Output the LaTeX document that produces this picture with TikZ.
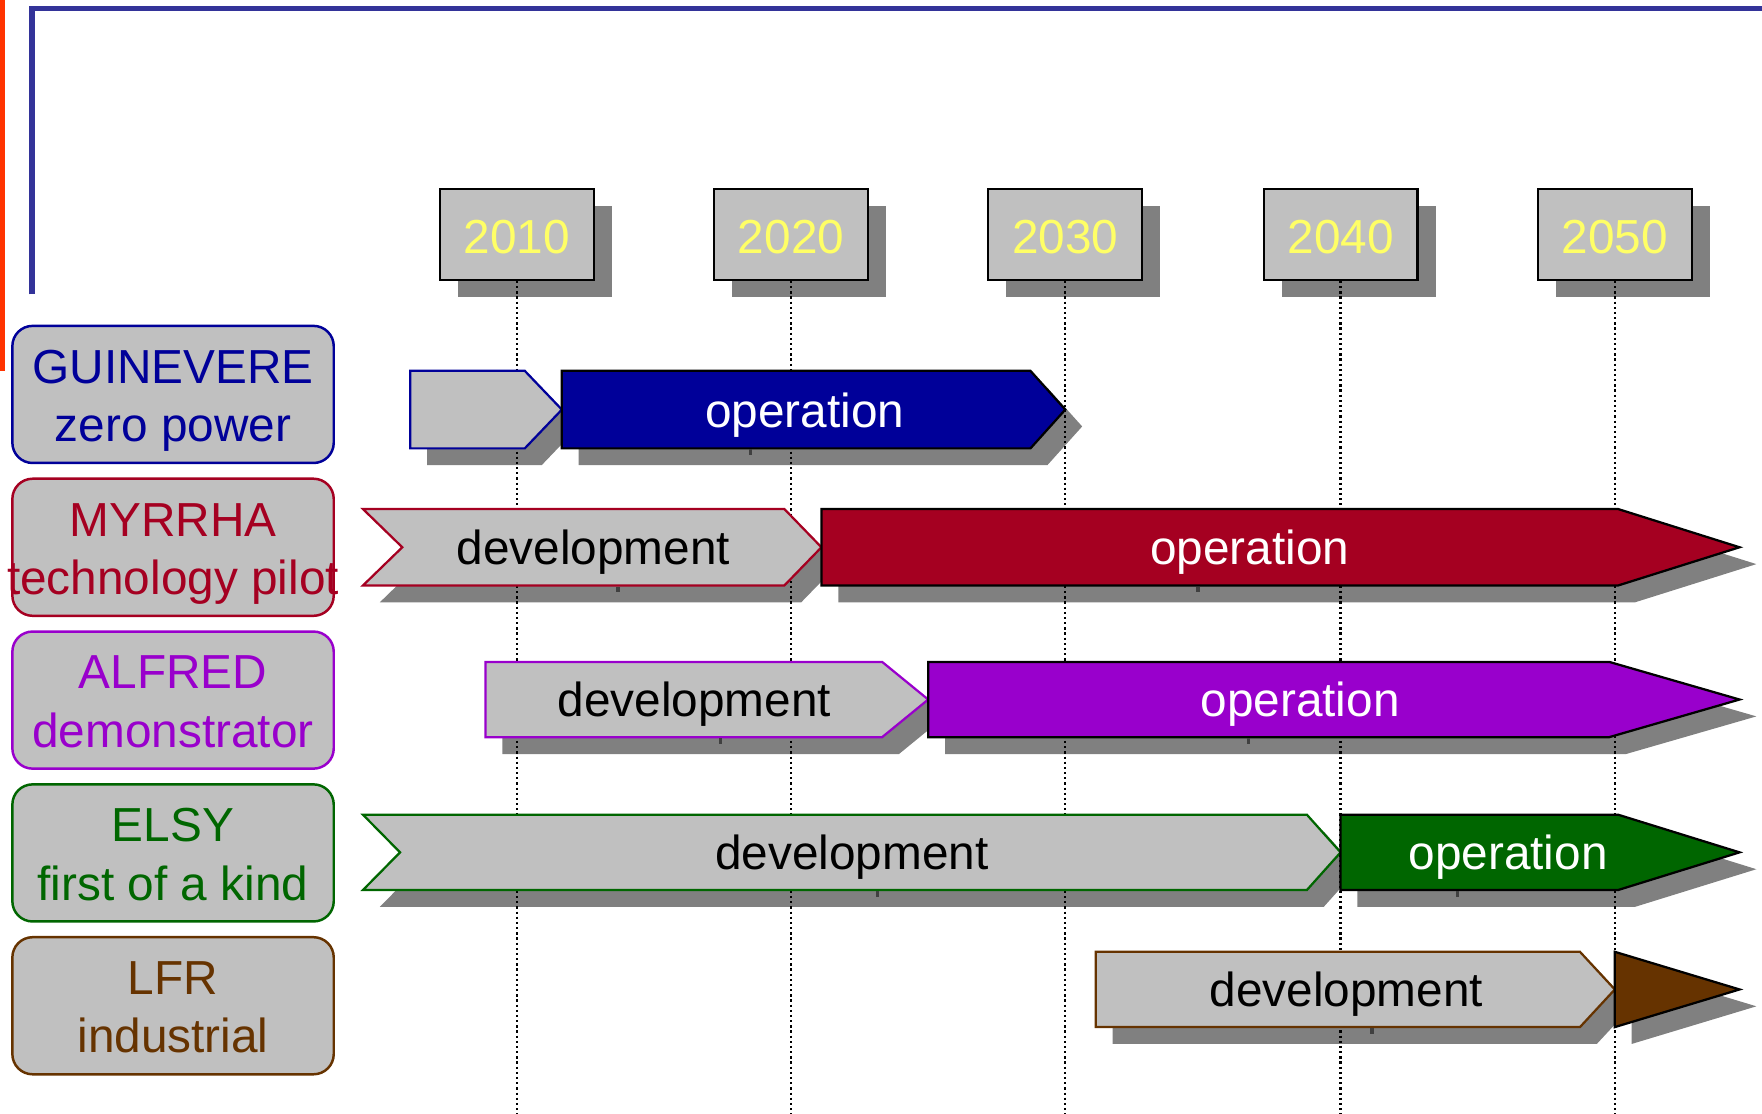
\documentclass[tikz,border=0pt]{standalone}
\usepackage{fontspec}
\setmainfont{Liberation Sans}
\definecolor{navyc}{HTML}{000099}
\definecolor{crimsonc}{HTML}{A50021}
\definecolor{purplec}{HTML}{9900CC}
\definecolor{greenc}{HTML}{006600}
\definecolor{brownc}{HTML}{663300}
\definecolor{boxgrey}{HTML}{C0C0C0}
\definecolor{shadowc}{HTML}{808080}
\definecolor{framec}{HTML}{333399}
\definecolor{edgec}{HTML}{FF3300}
\definecolor{yearc}{HTML}{FFFF66}
\definecolor{tickc}{HTML}{404040}
\pgfdeclarelayer{shadowlayer}
\pgfdeclarelayer{gridlayer}
\pgfsetlayers{shadowlayer,gridlayer,main}

% a bar with its drop shadow kept on the bottom layer
\newcommand\phasebar[2]{%
  \begin{pgfonlayer}{shadowlayer}\fill[shadowc,shift={(15,15)}] #2;\end{pgfonlayer}
  \filldraw[#1] #2;}

\begin{document}
\begin{tikzpicture}[x=1pt,y=-1pt,
  bigfont/.style={font=\fontsize{42.5}{50}\selectfont},
  yearbox/.style={draw=black,line width=2pt,fill=boxgrey,minimum width=137pt,
    minimum height=81pt,inner sep=0pt,text=yearc,text height=34pt,text depth=0pt,bigfont},
  labelbox/.style={line width=2.2pt,fill=boxgrey,rounded corners=18pt,
    minimum width=286pt,minimum height=122pt,inner sep=0pt},
  labeltext/.style={bigfont,anchor=base,inner sep=0pt},
  bartext/.style={bigfont,anchor=base,inner sep=0pt},
  devbar/.style={fill=boxgrey,line width=2pt},
  opbar/.style={draw=black,line width=2pt},
  gridline/.style={line width=2pt,dash pattern=on 2pt off 2.6pt},
  tick/.style={fill=tickc}]
\useasboundingbox (0,0) rectangle (1568,991);

% frame lines
\fill[edgec] (0,0) rectangle (4.5,330);
\draw[framec,line width=4.5pt] (28.5,262) -- (28.5,7.5) -- (1568,7.5);

% year boxes with shadows and grid lines
\foreach \yr/\xx in {2010/460,2020/704,2030/948,2040/1193,2050/1437}{
  \begin{pgfonlayer}{shadowlayer}
    \fill[shadowc] (\xx-68.5+16,168+15) rectangle (\xx+68.5+16,249+15);
  \end{pgfonlayer}
  \node[yearbox] (y\yr) at (\xx,208.5) {\yr};
  \coordinate (b\yr) at (\xx,991);
  \begin{pgfonlayer}{gridlayer}
    \draw[gridline] (y\yr.south) -- (b\yr);
  \end{pgfonlayer}
}

% project labels
\node[labelbox,draw=navyc] (gbox) at (154,351) {};
\node[labeltext,text=navyc] (gname) at (154,341) {GUINEVERE};
\node[labeltext,text=navyc] (gdesc) at (154,393) {zero power};

\node[labelbox,draw=crimsonc] (mbox) at (154,487) {};
\node[labeltext,text=crimsonc] (mname) at (154,477) {MYRRHA};
\node[labeltext,text=crimsonc] (mdesc) at (154,529) {technology pilot};

\node[labelbox,draw=purplec] (abox) at (154,623) {};
\node[labeltext,text=purplec] (aname) at (154,613) {ALFRED};
\node[labeltext,text=purplec] (adesc) at (154,665) {demonstrator};

\node[labelbox,draw=greenc] (ebox) at (154,759) {};
\node[labeltext,text=greenc] (ename) at (154,749) {ELSY};
\node[labeltext,text=greenc] (edesc) at (154,801) {first of a kind};

\node[labelbox,draw=brownc] (lbox) at (154,895) {};
\node[labeltext,text=brownc] (lname) at (154,885) {LFR};
\node[labeltext,text=brownc] (ldesc) at (154,937) {industrial};

% GUINEVERE
\phasebar{devbar,draw=navyc}{(365,330) -- (467,330) -- (500,364.5) -- (467,399) -- (365,399) -- cycle}
\phasebar{opbar,fill=navyc}{(500,330) -- (917,330) -- (948,364.5) -- (917,399) -- (500,399) -- cycle}
\node[bartext,text=white] (gop) at (716,380) {operation};

% MYRRHA
\phasebar{devbar,draw=crimsonc}{(323,453) -- (698,453) -- (731,487) -- (698,521) -- (323,521) -- (358,487) -- cycle}
\phasebar{opbar,fill=crimsonc}{(731,453) -- (1440,453) -- (1548,487) -- (1440,521) -- (731,521) -- cycle}
\node[bartext] (mdev) at (528,502) {development};
\node[bartext,text=white] (mop) at (1112,502) {operation};

% ALFRED
\phasebar{devbar,draw=purplec}{(432,589) -- (785,589) -- (826,622.5) -- (785,656) -- (432,656) -- cycle}
\phasebar{opbar,fill=purplec}{(826,589) -- (1432,589) -- (1548,622.5) -- (1432,656) -- (826,656) -- cycle}
\node[bartext] (adev) at (618,638) {development};
\node[bartext,text=white] (aop) at (1157,638) {operation};

% ELSY
\phasebar{devbar,draw=greenc}{(323,725) -- (1163,725) -- (1193,758.5) -- (1163,792) -- (323,792) -- (356,758.5) -- cycle}
\phasebar{opbar,fill=greenc}{(1193,725) -- (1440,725) -- (1548,758.5) -- (1440,792) -- (1193,792) -- cycle}
\node[bartext] (edev) at (758,774) {development};
\node[bartext,text=white] (eop) at (1342,774) {operation};

% LFR
\phasebar{devbar,draw=brownc}{(975,847) -- (1406,847) -- (1437,880.5) -- (1406,914) -- (975,914) -- cycle}
\phasebar{opbar,fill=brownc}{(1437,847) -- (1548,880.5) -- (1437,914) -- cycle}
\node[bartext] (ldev) at (1198,896) {development};

% small marks under the bars
\foreach \tx/\ty in {668/400,550/522,1066/522,641/657,1111/657,781/793,1297/793,1221/915}{
  \fill[tick] (\tx-1.5,\ty) rectangle (\tx+1.5,\ty+5);
}
\end{tikzpicture}
\end{document}
